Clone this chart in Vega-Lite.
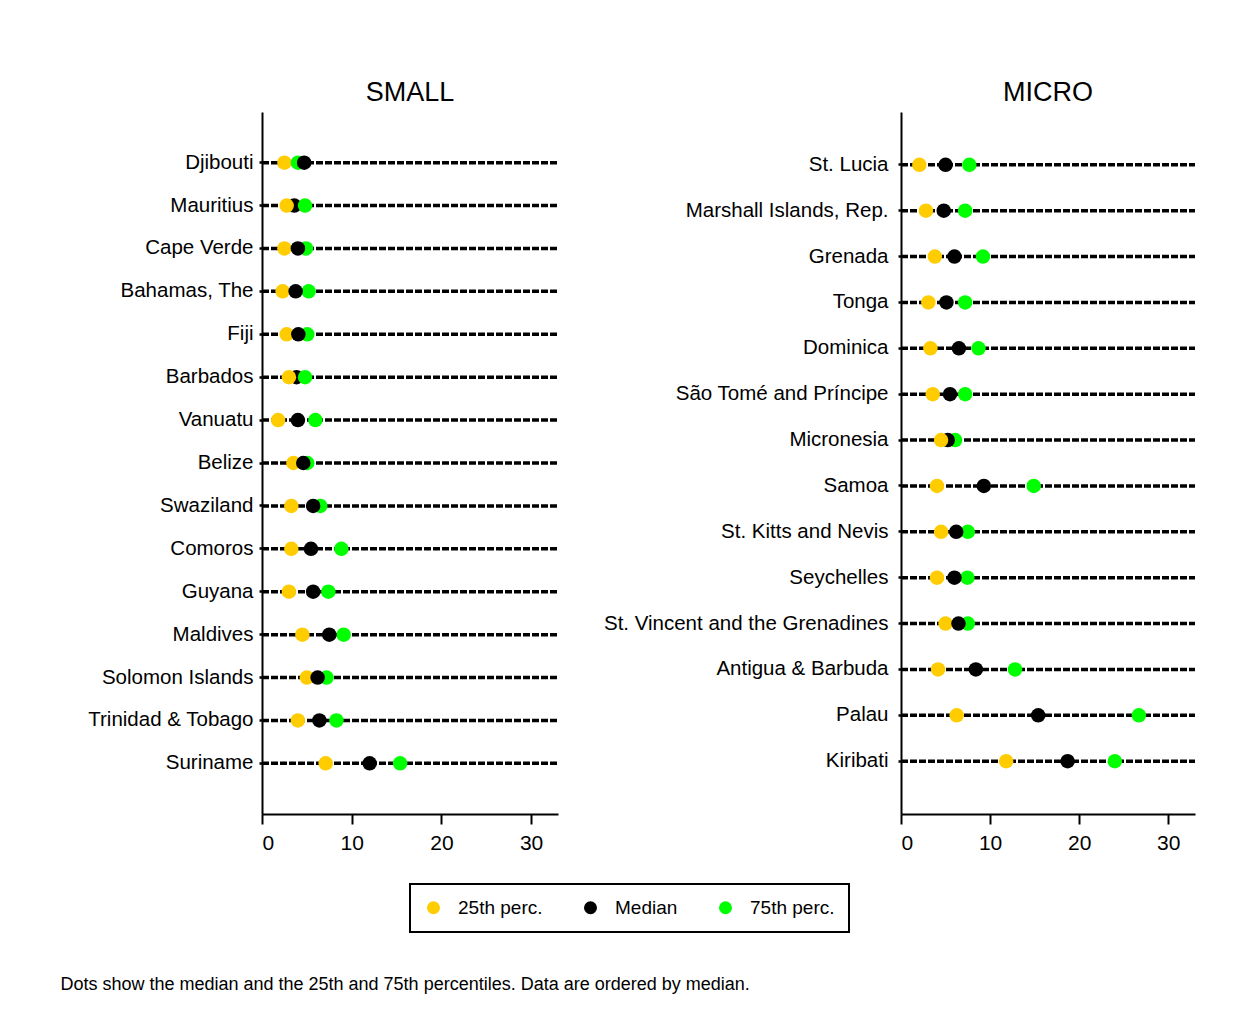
{
  "$schema": "https://vega.github.io/schema/vega-lite/v6.json",
  "background": "white",
  "padding": {"left": 60, "top": 79, "right": 10, "bottom": 10},
  "title": {"text": "Dots show the median and the 25th and 75th percentiles. Data are ordered by median.", "orient": "bottom", "anchor": "start", "dx": -27, "offset": 43, "fontSize": 18, "fontWeight": "normal", "font": "Liberation Sans", "color": "black"},
  "datasets": {
    "small": [
      {"country": "Djibouti", "stat": "25th perc.", "value": 2.5},
      {"country": "Djibouti", "stat": "75th perc.", "value": 4.0},
      {"country": "Djibouti", "stat": "Median", "value": 4.7},
      {"country": "Mauritius", "stat": "Median", "value": 3.6},
      {"country": "Mauritius", "stat": "25th perc.", "value": 2.75},
      {"country": "Mauritius", "stat": "75th perc.", "value": 4.8},
      {"country": "Cape Verde", "stat": "25th perc.", "value": 2.5},
      {"country": "Cape Verde", "stat": "75th perc.", "value": 4.9},
      {"country": "Cape Verde", "stat": "Median", "value": 4.0},
      {"country": "Bahamas, The", "stat": "25th perc.", "value": 2.3},
      {"country": "Bahamas, The", "stat": "75th perc.", "value": 5.2},
      {"country": "Bahamas, The", "stat": "Median", "value": 3.75},
      {"country": "Fiji", "stat": "25th perc.", "value": 2.75},
      {"country": "Fiji", "stat": "75th perc.", "value": 5.05},
      {"country": "Fiji", "stat": "Median", "value": 4.05},
      {"country": "Barbados", "stat": "Median", "value": 3.85},
      {"country": "Barbados", "stat": "25th perc.", "value": 3.0},
      {"country": "Barbados", "stat": "75th perc.", "value": 4.8},
      {"country": "Vanuatu", "stat": "25th perc.", "value": 1.8},
      {"country": "Vanuatu", "stat": "75th perc.", "value": 5.95},
      {"country": "Vanuatu", "stat": "Median", "value": 4.0},
      {"country": "Belize", "stat": "25th perc.", "value": 3.5},
      {"country": "Belize", "stat": "75th perc.", "value": 5.05},
      {"country": "Belize", "stat": "Median", "value": 4.6},
      {"country": "Swaziland", "stat": "25th perc.", "value": 3.27},
      {"country": "Swaziland", "stat": "75th perc.", "value": 6.5},
      {"country": "Swaziland", "stat": "Median", "value": 5.7},
      {"country": "Comoros", "stat": "25th perc.", "value": 3.27},
      {"country": "Comoros", "stat": "75th perc.", "value": 8.85},
      {"country": "Comoros", "stat": "Median", "value": 5.46},
      {"country": "Guyana", "stat": "25th perc.", "value": 3.0},
      {"country": "Guyana", "stat": "75th perc.", "value": 7.4},
      {"country": "Guyana", "stat": "Median", "value": 5.7},
      {"country": "Maldives", "stat": "25th perc.", "value": 4.5},
      {"country": "Maldives", "stat": "75th perc.", "value": 9.1},
      {"country": "Maldives", "stat": "Median", "value": 7.5},
      {"country": "Solomon Islands", "stat": "75th perc.", "value": 7.2},
      {"country": "Solomon Islands", "stat": "25th perc.", "value": 5.0},
      {"country": "Solomon Islands", "stat": "Median", "value": 6.2},
      {"country": "Trinidad & Tobago", "stat": "25th perc.", "value": 4.0},
      {"country": "Trinidad & Tobago", "stat": "75th perc.", "value": 8.3},
      {"country": "Trinidad & Tobago", "stat": "Median", "value": 6.4},
      {"country": "Suriname", "stat": "25th perc.", "value": 7.1},
      {"country": "Suriname", "stat": "75th perc.", "value": 15.4},
      {"country": "Suriname", "stat": "Median", "value": 12.0}
    ],
    "micro": [
      {"country": "St. Lucia", "stat": "25th perc.", "value": 2.06},
      {"country": "St. Lucia", "stat": "75th perc.", "value": 7.67},
      {"country": "St. Lucia", "stat": "Median", "value": 5.0},
      {"country": "Marshall Islands, Rep.", "stat": "25th perc.", "value": 2.8},
      {"country": "Marshall Islands, Rep.", "stat": "75th perc.", "value": 7.2},
      {"country": "Marshall Islands, Rep.", "stat": "Median", "value": 4.8},
      {"country": "Grenada", "stat": "25th perc.", "value": 3.8},
      {"country": "Grenada", "stat": "75th perc.", "value": 9.2},
      {"country": "Grenada", "stat": "Median", "value": 6.0},
      {"country": "Tonga", "stat": "25th perc.", "value": 3.07},
      {"country": "Tonga", "stat": "75th perc.", "value": 7.2},
      {"country": "Tonga", "stat": "Median", "value": 5.1},
      {"country": "Dominica", "stat": "25th perc.", "value": 3.3},
      {"country": "Dominica", "stat": "75th perc.", "value": 8.7},
      {"country": "Dominica", "stat": "Median", "value": 6.5},
      {"country": "São Tomé and Príncipe", "stat": "25th perc.", "value": 3.56},
      {"country": "São Tomé and Príncipe", "stat": "75th perc.", "value": 7.2},
      {"country": "São Tomé and Príncipe", "stat": "Median", "value": 5.5},
      {"country": "Micronesia", "stat": "75th perc.", "value": 6.07},
      {"country": "Micronesia", "stat": "Median", "value": 5.25},
      {"country": "Micronesia", "stat": "25th perc.", "value": 4.5},
      {"country": "Samoa", "stat": "25th perc.", "value": 4.04},
      {"country": "Samoa", "stat": "75th perc.", "value": 14.9},
      {"country": "Samoa", "stat": "Median", "value": 9.3},
      {"country": "St. Kitts and Nevis", "stat": "25th perc.", "value": 4.5},
      {"country": "St. Kitts and Nevis", "stat": "75th perc.", "value": 7.5},
      {"country": "St. Kitts and Nevis", "stat": "Median", "value": 6.2},
      {"country": "Seychelles", "stat": "25th perc.", "value": 4.04},
      {"country": "Seychelles", "stat": "75th perc.", "value": 7.45},
      {"country": "Seychelles", "stat": "Median", "value": 6.0},
      {"country": "St. Vincent and the Grenadines", "stat": "25th perc.", "value": 5.0},
      {"country": "St. Vincent and the Grenadines", "stat": "75th perc.", "value": 7.5},
      {"country": "St. Vincent and the Grenadines", "stat": "Median", "value": 6.45},
      {"country": "Antigua & Barbuda", "stat": "25th perc.", "value": 4.16},
      {"country": "Antigua & Barbuda", "stat": "75th perc.", "value": 12.8},
      {"country": "Antigua & Barbuda", "stat": "Median", "value": 8.4},
      {"country": "Palau", "stat": "25th perc.", "value": 6.25},
      {"country": "Palau", "stat": "75th perc.", "value": 26.7},
      {"country": "Palau", "stat": "Median", "value": 15.4},
      {"country": "Kiribati", "stat": "25th perc.", "value": 11.8},
      {"country": "Kiribati", "stat": "75th perc.", "value": 24.0},
      {"country": "Kiribati", "stat": "Median", "value": 18.7}
    ]
  },
  "spacing": 43,
  "hconcat": [
    {
      "title": {"text": "SMALL"},
      "width": 296,
      "height": 702,
      "data": {"name": "small"},
      "layer": [
        {
          "transform": [{"aggregate": [{"op": "count", "as": "n"}], "groupby": ["country"]}],
          "mark": {"type": "rule", "color": "black", "strokeWidth": 3.5, "strokeDash": [7, 2]},
          "encoding": {
            "y": {"field": "country", "type": "nominal", "bandPosition": 0.5, "sort": ["Djibouti", "Mauritius", "Cape Verde", "Bahamas, The", "Fiji", "Barbados", "Vanuatu", "Belize", "Swaziland", "Comoros", "Guyana", "Maldives", "Solomon Islands", "Trinidad & Tobago", "Suriname"], "scale": {"type": "band", "paddingInner": 0, "paddingOuter": 0.68}, "axis": {"title": null}},
            "x": {"datum": 0, "type": "quantitative", "scale": {"domain": [0, 33], "nice": false}},
            "x2": {"datum": 33}
          }
        },
        {
          "mark": {"type": "circle", "opacity": 1, "size": 210},
          "encoding": {
            "y": {"field": "country", "type": "nominal", "bandPosition": 0.5, "sort": ["Djibouti", "Mauritius", "Cape Verde", "Bahamas, The", "Fiji", "Barbados", "Vanuatu", "Belize", "Swaziland", "Comoros", "Guyana", "Maldives", "Solomon Islands", "Trinidad & Tobago", "Suriname"]},
            "x": {"field": "value", "type": "quantitative", "axis": {"title": null, "values": [0, 10, 20, 30]}},
            "color": {"field": "stat", "type": "nominal", "scale": {"domain": ["25th perc.", "Median", "75th perc."], "range": ["#FFCC00", "#000000", "#00FF00"]}, "legend": {"title": null}}
          }
        }
      ]
    },
    {
      "title": {"text": "MICRO"},
      "width": 294,
      "height": 702,
      "data": {"name": "micro"},
      "layer": [
        {
          "transform": [{"aggregate": [{"op": "count", "as": "n"}], "groupby": ["country"]}],
          "mark": {"type": "rule", "color": "black", "strokeWidth": 3.5, "strokeDash": [7, 2]},
          "encoding": {
            "y": {"field": "country", "type": "nominal", "bandPosition": 0.5, "sort": ["St. Lucia", "Marshall Islands, Rep.", "Grenada", "Tonga", "Dominica", "São Tomé and Príncipe", "Micronesia", "Samoa", "St. Kitts and Nevis", "Seychelles", "St. Vincent and the Grenadines", "Antigua & Barbuda", "Palau", "Kiribati"], "scale": {"type": "band", "paddingInner": 0, "paddingOuter": 0.65}, "axis": {"title": null, "labelPadding": 10}},
            "x": {"datum": 0, "type": "quantitative", "scale": {"domain": [0, 33], "nice": false}},
            "x2": {"datum": 33}
          }
        },
        {
          "mark": {"type": "circle", "opacity": 1, "size": 210},
          "encoding": {
            "y": {"field": "country", "type": "nominal", "bandPosition": 0.5, "sort": ["St. Lucia", "Marshall Islands, Rep.", "Grenada", "Tonga", "Dominica", "São Tomé and Príncipe", "Micronesia", "Samoa", "St. Kitts and Nevis", "Seychelles", "St. Vincent and the Grenadines", "Antigua & Barbuda", "Palau", "Kiribati"]},
            "x": {"field": "value", "type": "quantitative", "axis": {"title": null, "values": [0, 10, 20, 30]}},
            "color": {"field": "stat", "type": "nominal", "scale": {"domain": ["25th perc.", "Median", "75th perc."], "range": ["#FFCC00", "#000000", "#00FF00"]}, "legend": {"title": null}}
          }
        }
      ]
    }
  ],
  "resolve": {"scale": {"color": "shared"}},
  "config": {
    "font": "Liberation Sans",
    "view": {"stroke": null},
    "title": {"fontSize": 27, "fontWeight": "normal", "font": "Liberation Sans", "color": "black", "offset": 5},
    "axis": {"domainColor": "black", "domainWidth": 2, "tickColor": "black", "labelColor": "black", "labelFont": "Liberation Sans", "labelFontSize": 20.5, "grid": false, "labelLimit": 500},
    "axisY": {"tickSize": 3, "tickWidth": 2.5, "labelPadding": 6, "bandPosition": 0.5},
    "axisX": {"tickSize": 10, "tickWidth": 2, "labelPadding": 8, "labelFontSize": 21},
    "legend": {"orient": "none", "legendX": 148, "legendY": 772, "direction": "horizontal", "columns": 3, "strokeColor": "black", "strokeWidth": 2, "padding": 14, "symbolType": "circle", "symbolSize": 170, "symbolStrokeWidth": 0, "labelFontSize": 19, "labelFont": "Liberation Sans", "labelColor": "black", "labelOffset": 15, "columnPadding": 38, "symbolOpacity": 1}
  }
}
